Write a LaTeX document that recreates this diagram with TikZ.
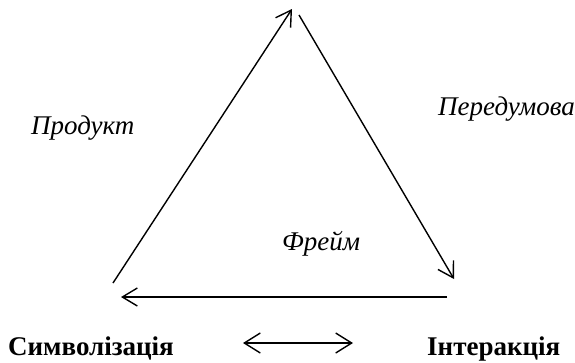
\documentclass[tikz,border=0pt]{standalone}
\usepackage{fontspec}
\setmainfont{Liberation Serif}
\usetikzlibrary{arrows.meta}
\begin{document}
\begin{tikzpicture}[x=1bp,y=-1bp,
  edge/.style={line width=1.4bp,-{Straight Barb[length=15bp,width=18bp,line width=1.4bp]}},
  lab/.style={anchor=base west,inner sep=0pt,font=\fontsize{27bp}{31bp}\selectfont\itshape},
  blab/.style={anchor=base west,inner sep=0pt,font=\fontsize{27bp}{31bp}\selectfont\bfseries}]
\useasboundingbox (0,0) rectangle (575,362);
\coordinate (l1) at (113,283);
\coordinate (t1) at (292,9);
\coordinate (t2) at (299,15);
\coordinate (r1) at (454,279);
\coordinate (r2) at (447,297);
\coordinate (l2) at (121,297);
\draw[edge] (l1) -- (t1);
\draw[edge] (t2) -- (r1);
\draw[edge] (r2) -- (l2);
\node[lab] (prod) at (31,134) {Продукт};
\node[lab] (pered) at (438,115) {Передумова};
\node[lab] (frame) at (282,250) {Фрейм};
\node[blab] (sym) at (8,355) {Символізація};
\node[blab] (int) at (427,355) {Інтеракція};
\coordinate (da) at (243,343);
\coordinate (db) at (353,343);
\draw[line width=1.6bp,{Straight Barb[length=16bp,width=20bp,line width=1.4bp]}-{Straight Barb[length=16bp,width=20bp,line width=1.4bp]}] (da) -- (db);
\end{tikzpicture}
\end{document}
